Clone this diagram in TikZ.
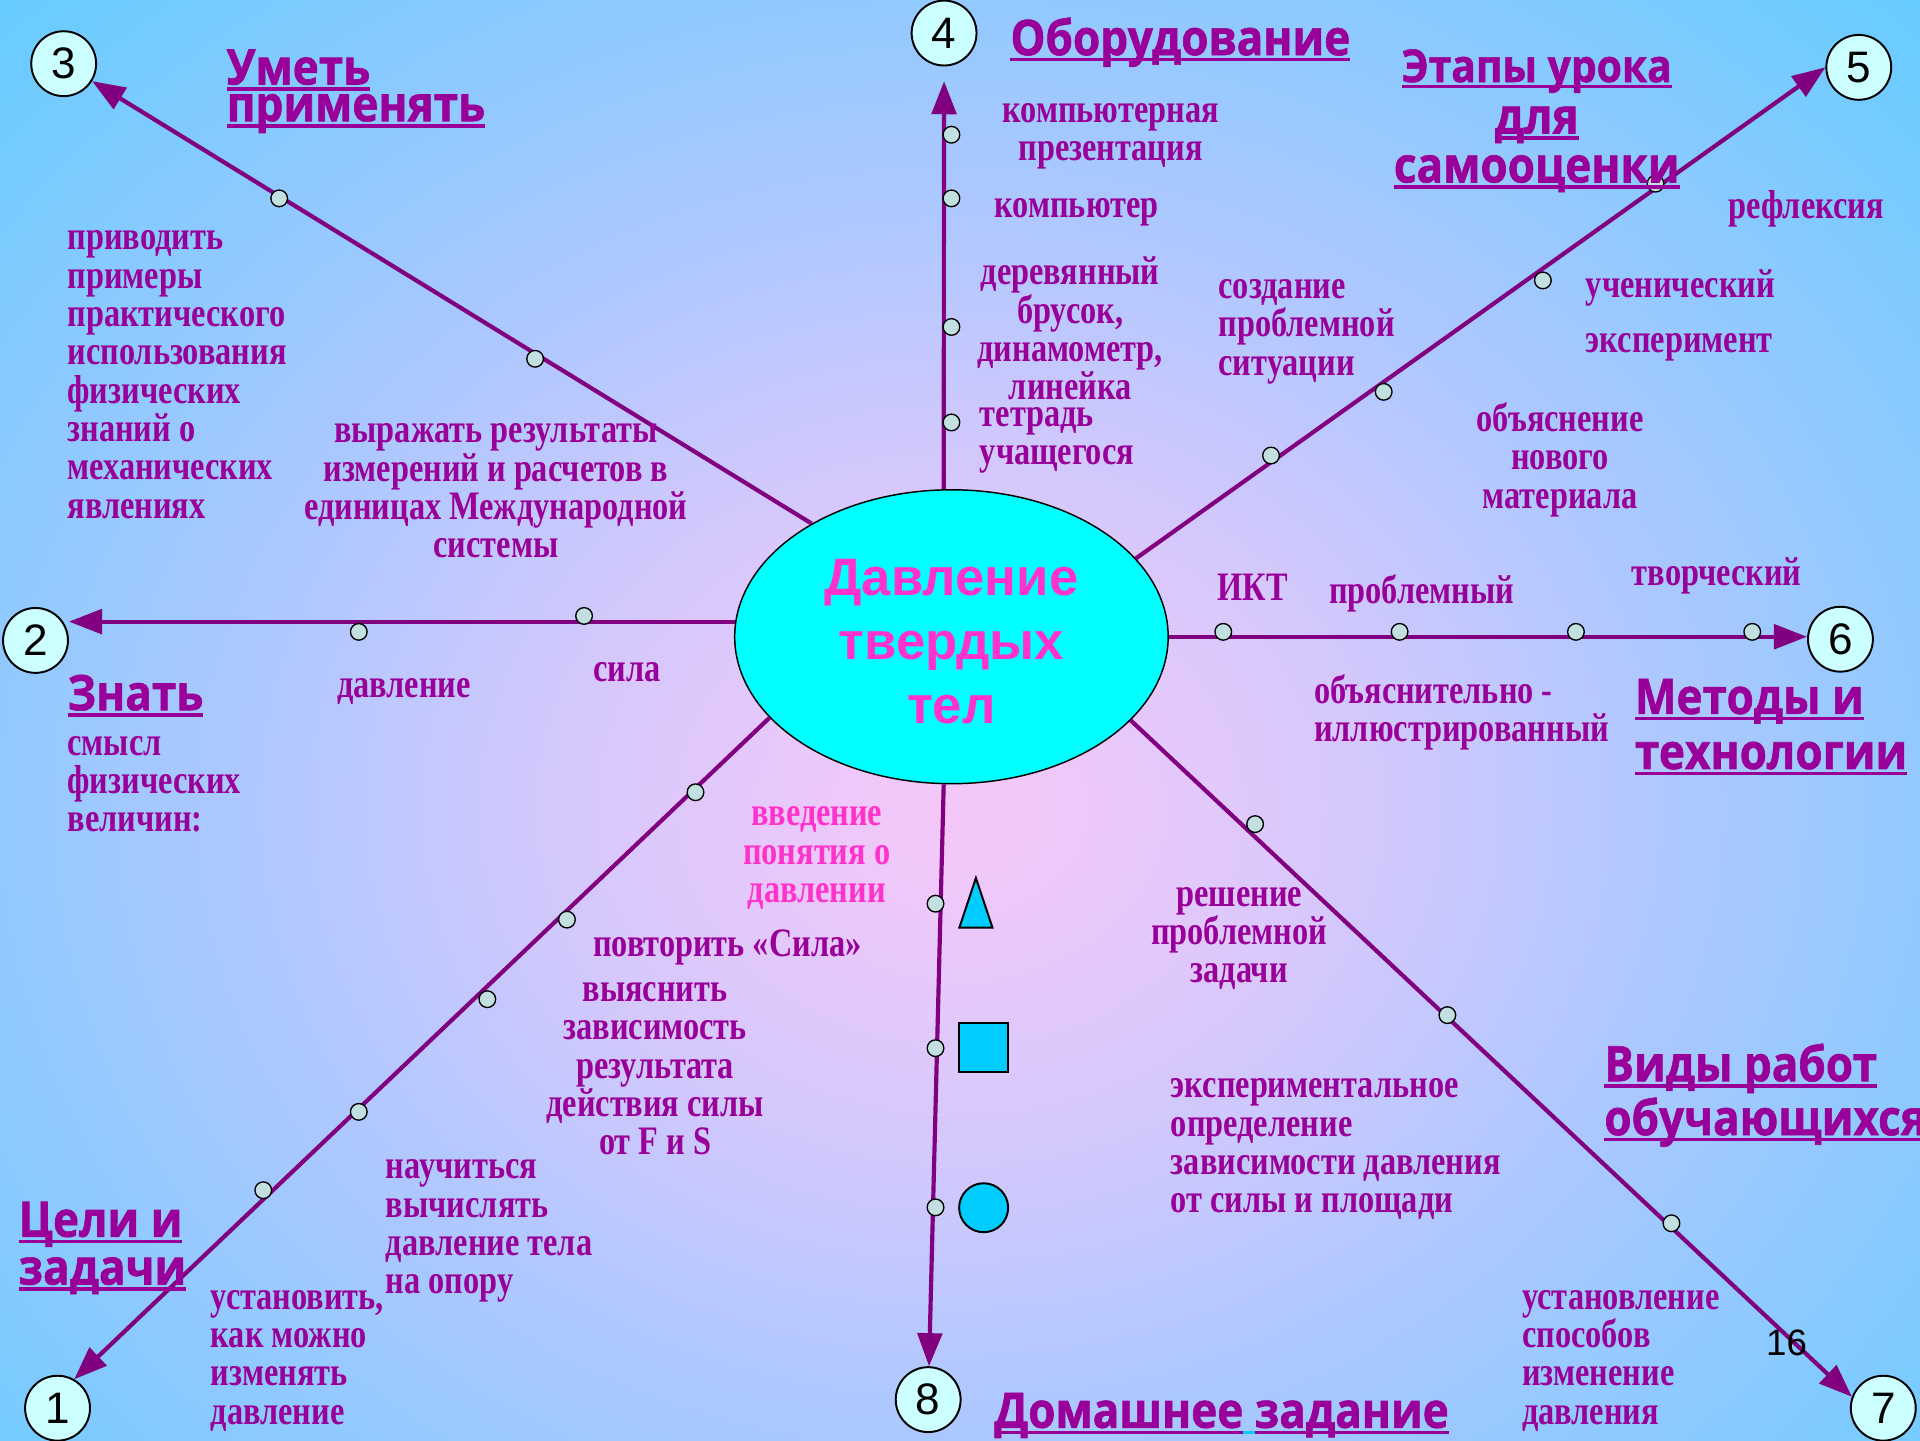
\documentclass[tikz,border=0pt]{standalone}
\usepackage{fontspec}
\setmainfont{Liberation Serif}
\newfontfamily\tnr{Liberation Serif}[FakeStretch=0.8]
\newfontfamily\ars{Liberation Sans}
\newfontfamily\hdf{Open Sans}[FakeStretch=0.9, FakeBold=1.2]
\usetikzlibrary{arrows.meta,shapes.geometric}
\definecolor{txt}{HTML}{990099}
\definecolor{spk}{HTML}{800080}
\definecolor{pnk}{HTML}{FF33CC}
\definecolor{elc}{HTML}{00FFFF}
\definecolor{numc}{HTML}{CCFFFF}
\definecolor{shpc}{HTML}{00CCFF}
\definecolor{dotc}{HTML}{C2E0E0}
\definecolor{bgA}{HTML}{F4C8F8}
\definecolor{bgA2}{HTML}{EEC8FA}
\definecolor{bgB}{HTML}{D6C8FC}
\definecolor{bgC}{HTML}{B0C8FF}
\definecolor{bgC2}{HTML}{92C9FF}
\definecolor{bgD}{HTML}{66CCFF}
\pgfdeclareradialshading{bgsh}{\pgfpoint{0bp}{0bp}}{color(0bp)=(bgA); color(3bp)=(bgA2); color(10bp)=(bgB); color(18bp)=(bgC); color(25bp)=(bgC2); color(35.4bp)=(bgD); color(50bp)=(bgD)}
\newcommand\ulx[1]{\setbox0=\hbox{#1}\rlap{\rule[-0.13em]{\wd0}{0.07em}}\box0}
\newcommand\ulc[1]{\setbox0=\hbox{#1}\rlap{\color{shpc}\rule[-0.13em]{\wd0}{0.07em}}\box0}
\tikzset{
  spoke/.style={draw=spk, line width=3.4pt, -{Triangle[length=27pt,width=20pt]}},
  dot/.style={circle, draw=black, line width=1.1pt, fill=dotc, minimum size=13.6pt, inner sep=0pt},
  num/.style={circle, draw=black, line width=1.6pt, fill=numc, minimum size=53pt, inner sep=0pt, font=\ars\fontsize{36}{36}\selectfont},
  lbl/.style={text=txt, inner sep=0pt, font=\tnr\bfseries\fontsize{33}{31.3}\selectfont, execute at begin node=\strut, execute at end node=\strut},
  hd/.style={text=txt, inner sep=0pt, font=\hdf\bfseries\fontsize{40}{40}\selectfont},
  shp/.style={draw=black, line width=1.6pt, fill=shpc},
}
\begin{document}
\begin{tikzpicture}[x=1pt,y=-1pt]
\useasboundingbox (0,0) rectangle (1568,1176);
\begin{scope}
  \clip (0,0) rectangle (1568,1176);
  \shade[shading=bgsh] (0,0) rectangle (1568,1320);
\end{scope}

% centre
\node[ellipse, draw=black, line width=1.2pt, fill=elc, minimum width=354pt, minimum height=240pt, inner sep=0pt] (c) at (777,520) {};
\node[text=pnk, font=\ars\bfseries\fontsize{43}{52.6}\selectfont, align=center, inner sep=0pt] (ct) at (777,524) {Давление\\твердых\\тел};

% number circles
\node[num] (n1) at (47,1150) {1};
\node[num] (n2) at (29,523) {2};
\node[num] (n3) at (52,52) {3};
\node[num] (n4) at (771,27) {4};
\node[num] (n5) at (1518,55) {5};
\node[num] (n6) at (1503,522) {6};
\node[num] (n7) at (1538,1150) {7};
\node[num] (n8) at (758,1143) {8};

% spokes
\draw[spoke] (c.204) -- (n1.60);
\draw[spoke] (c.176) -- (c.176 -| n2.east);
\draw[spoke] (c.141) -- (n3);
\draw[spoke, shorten >=12pt] (c.93) -- (n4);
\draw[spoke] (c.23) -- (n5.west);
\draw[spoke] (c.east) -- (c.east -| n6.west);
\draw[spoke] (c.-25) -- (n7.160);
\draw[spoke] (c.-93) -- (n8);

% dots
\foreach \p [count=\i] in {(568,647),(463,751),(398,816),(293,908),(215,972),
  (477,503),(293,516),(228,162),(437,293),
  (777,110),(777,162),(777,267),(777,345),
  (1038,372),(1130,320),(1260,229),(1352,150),
  (999,516),(1143,516),(1287,516),(1431,516),
  (1025,673),(1182,829),(1365,999),
  (764,738),(764,856),(764,986)}
  \node[dot] (d\i) at \p {};

% shapes on spoke 8
\draw[shp] (797,717) -- (810.5,757.5) -- (783.5,757.5) -- cycle;
\draw[shp] (783.5,835.5) rectangle (823.5,875.5);
\draw[shp] (803.3,986.3) circle (20);

% headings
\node[hd, anchor=base west] (h3a) at (185,69) {\ulx{Уметь}};
\node[hd, anchor=base west] (h3b) at (185,99) {\ulx{применять}};
\node[hd, anchor=base west] (h4) at (825,45) {\ulx{Оборудование}};
\node[hd, anchor=base, font=\hdf\bfseries\fontsize{37}{37}\selectfont] (h5a) at (1255,67) {\ulx{Этапы урока}};
\node[hd, anchor=base] (h5b) at (1255,109) {\ulx{для}};
\node[hd, anchor=base] (h5c) at (1255,149) {\ulx{самооценки}};
\node[hd, anchor=base west] (h2) at (55,580) {\ulx{Знать}};
\node[hd, anchor=base west] (h6a) at (1335,583) {\ulx{Методы и}};
\node[hd, anchor=base west] (h6b) at (1335,628) {\ulx{технологии}};
\node[hd, anchor=base west] (h7a) at (1310,883) {\ulx{Виды работ}};
\node[hd, anchor=base west] (h7b) at (1310,927) {\ulx{обучающихся}};
\node[hd, anchor=base west] (h1a) at (15,1010) {\ulx{Цели и}};
\node[hd, anchor=base west] (h1b) at (15,1049) {\ulx{задачи}};
\node[hd, anchor=base west] (h8) at (812,1166) {\ulx{Домашнее}\ulc{\ }\ulx{задание}};

% labels
\node[lbl, anchor=west, align=left] (la) at (55,310.5) {приводить\\примеры\\практического\\использования\\физических\\знаний о\\механических\\явлениях};
\node[lbl, align=center] (lb) at (405,405.5) {выражать результаты\\измерений и расчетов в\\единицах Международной\\системы};
\node[lbl, align=center] (lc) at (907,112.5) {компьютерная\\презентация};
\node[lbl, anchor=west] (ld) at (812,171.5) {компьютер};
\node[lbl, align=center] (le) at (874,273) {деревянный\\брусок,\\динамометр,\\линейка};
\node[lbl, anchor=west, align=left] (lf) at (800,361) {тетрадь\\учащегося};
\node[lbl, anchor=west, align=left] (lg) at (995,272) {создание\\проблемной\\ситуации};
\node[lbl] (lh) at (1475,171.5) {рефлексия};
\node[lbl, anchor=west] (li) at (1295,236.5) {ученический};
\node[lbl, anchor=west] (lj) at (1295,281.5) {эксперимент};
\node[lbl, align=center] (lk) at (1274,376.5) {объяснение\\нового\\материала};
\node[lbl] (ll) at (1023,484.5) {ИКТ};
\node[lbl] (lm) at (1161,485.5) {проблемный};
\node[lbl] (ln) at (1402,471.5) {творческий};
\node[lbl, anchor=west, align=left] (lo) at (1073,583) {объяснительно -\\иллюстрированный};
\node[lbl, align=center] (lp) at (1012,768.3) {решение\\проблемной\\задачи};
\node[lbl, anchor=west, align=left] (lq) at (956,940.5) {экспериментальное\\определение\\зависимости давления\\от силы и площади};
\node[lbl, anchor=west, align=left] (lr) at (1243,1113) {установление\\способов\\изменение\\давления};
\node[lbl] (ls) at (330,563.5) {давление};
\node[lbl] (lt) at (512,550.5) {сила};
\node[lbl, anchor=west, align=left] (lu) at (55,645) {смысл\\физических\\величин:};
\node[lbl, align=center, text=pnk] (lv) at (667,702.7) {введение\\понятия о\\давлении};
\node[lbl] (lw) at (594,774.5) {повторить «Сила»};
\node[lbl, align=center] (lx) at (535,877.4) {выяснить\\зависимость\\результата\\действия силы\\от F и S};
\node[lbl, anchor=west, align=left] (ly) at (315,1006.5) {научиться\\вычислять\\давление тела\\на опору};
\node[lbl, anchor=west, align=left] (lz) at (172,1113) {установить,\\как можно\\изменять\\давление};

\node[font=\ars\fontsize{30}{30}\selectfont, inner sep=0pt] (pg) at (1459,1097) {16};
\end{tikzpicture}
\end{document}
